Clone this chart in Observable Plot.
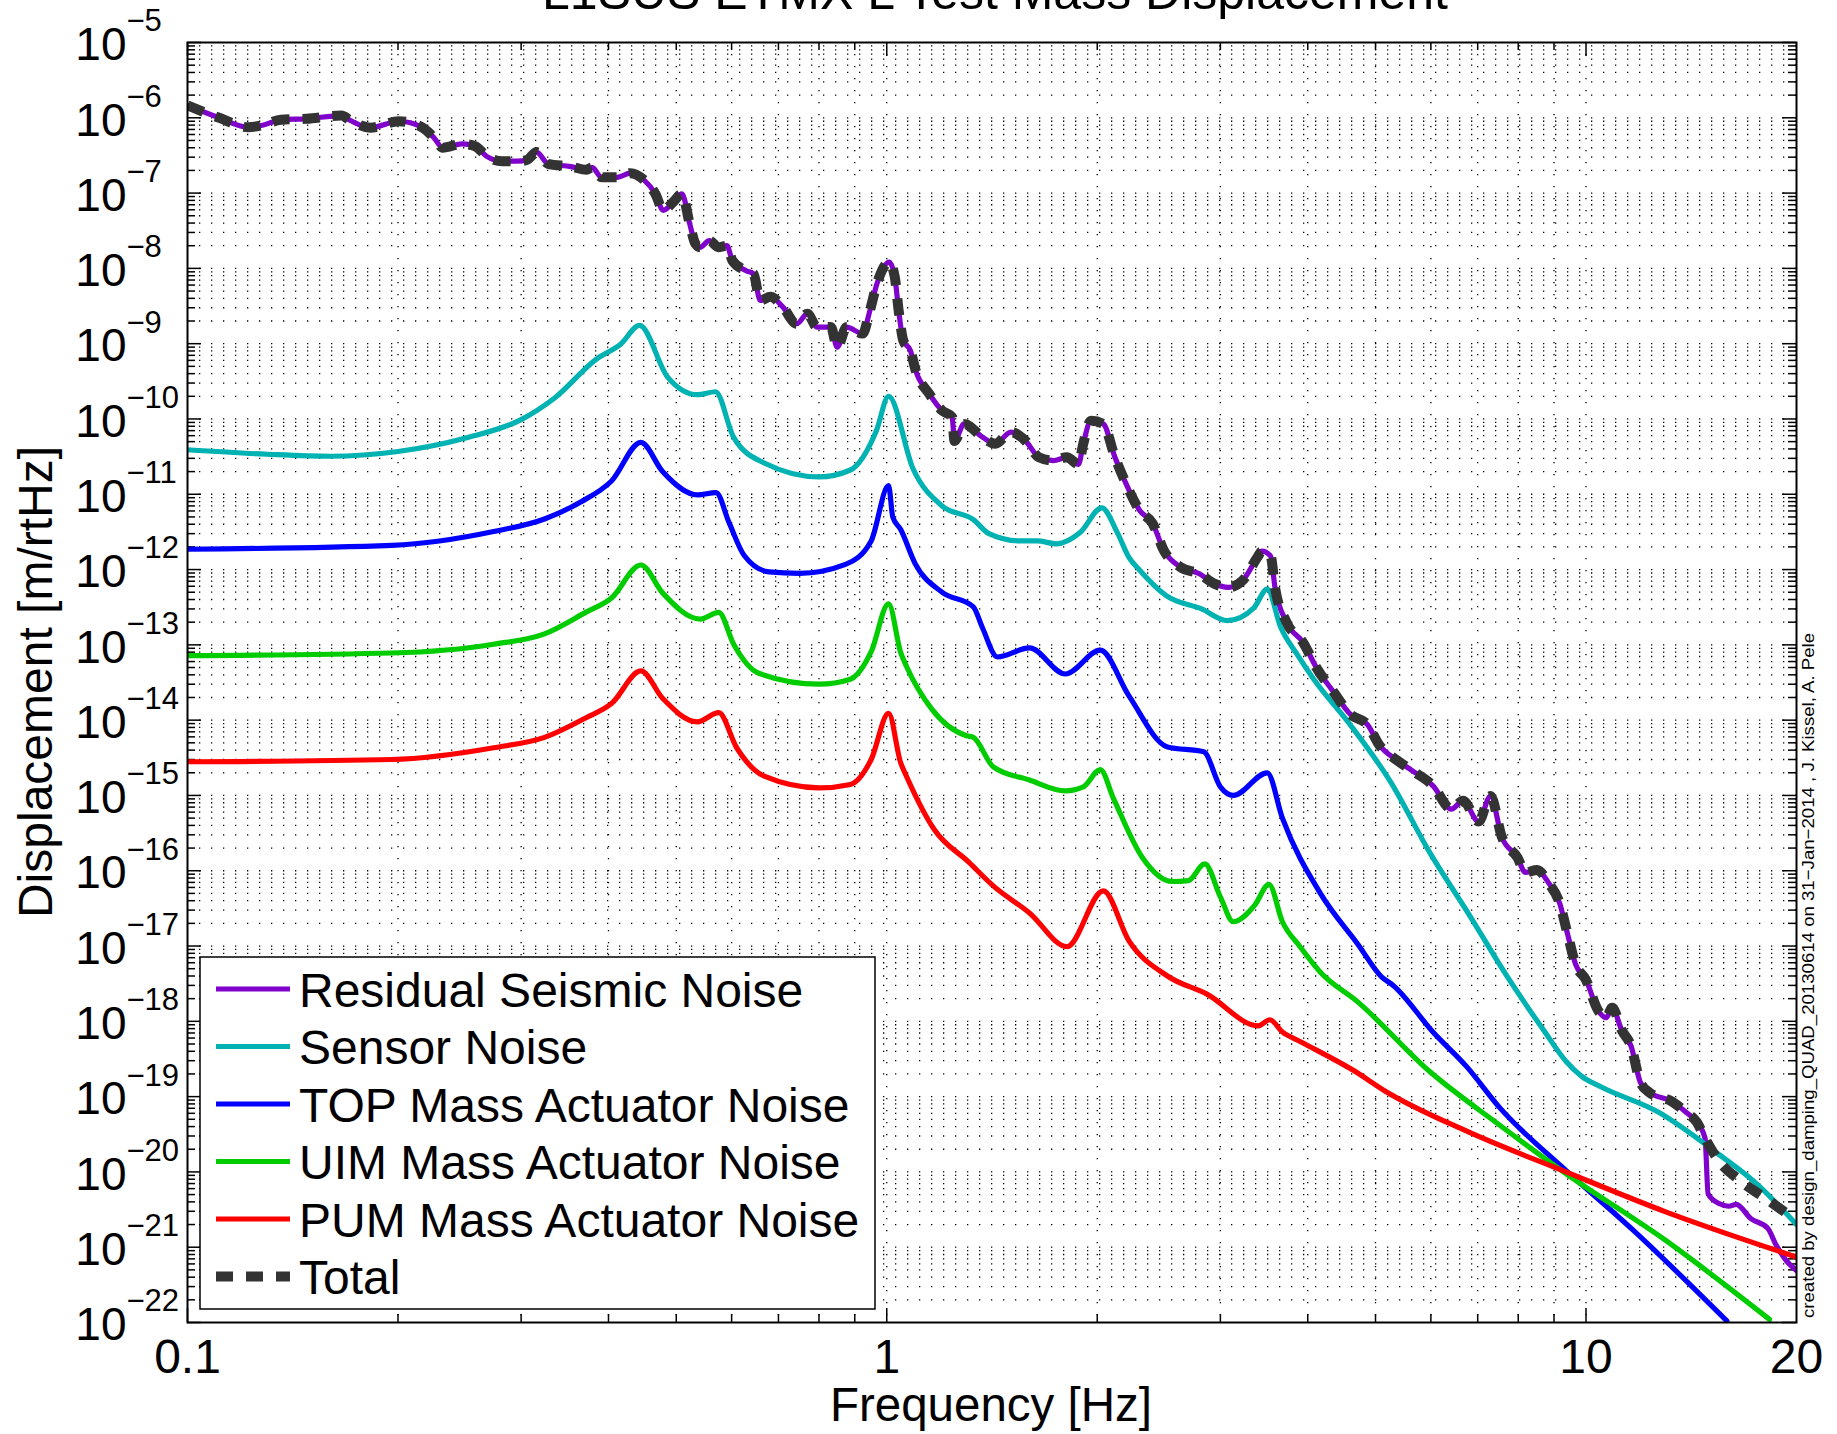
<!DOCTYPE html>
<html><head><meta charset="utf-8">
<script src="https://cdn.jsdelivr.net/npm/d3@7"></script>
<script src="https://cdn.jsdelivr.net/npm/@observablehq/plot@0.6"></script>
<style>
html,body{margin:0;padding:0;background:#fff;}
#chart{position:relative;width:1837px;height:1434px;overflow:hidden;background:#fff;}
</style></head><body><div id="chart"></div>
<script>
// ---------------- DATA (frequency [Hz], displacement [m/rtHz]) ----------------
const titleText = "L1SUS ETMX L Test Mass Displacement";
const xLabel = "Frequency [Hz]";
const yLabel = "Displacement [m/rtHz]";
const captionText = "created by design_damping_QUAD_20130614 on 31\u2212Jan\u22122014 , J. Kissel, A. Pele";

const seriesNames = ["Residual Seismic Noise","Sensor Noise","TOP Mass Actuator Noise","UIM Mass Actuator Noise","PUM Mass Actuator Noise","Total"];
const seriesColors = ["#8000cc","#00b2b2","#0000ff","#00cc00","#ff0000","#333333"];

const seismicNoise = [[0.1,1.46e-6],[0.111,1.0e-6],[0.122,7.5e-7],[0.1275,7.9e-7],[0.136,9.4e-7],[0.148,9.7e-7],[0.166,1.07e-6],[0.171,9.2e-7],[0.1825,7.4e-7],[0.2006,9.0e-7],[0.2164,7.5e-7],[0.2249,5.5e-7],[0.2318,4.0e-7],[0.2469,4.5e-7],[0.2578,4.2e-7],[0.2682,3.05e-7],[0.2819,2.65e-7],[0.2963,2.65e-7],[0.3058,2.75e-7],[0.3157,3.5e-7],[0.3278,2.45e-7],[0.3535,2.25e-7],[0.372,2.04e-7],[0.379,2.2e-7],[0.391,1.62e-7],[0.4115,1.62e-7],[0.4298,1.84e-7],[0.4494,1.5e-7],[0.4667,9.8e-8],[0.479,5.9e-8],[0.495,7.6e-8],[0.5094,9.8e-8],[0.5227,3.9e-8],[0.5326,2.12e-8],[0.5408,1.91e-8],[0.5575,2.34e-8],[0.5746,1.91e-8],[0.5907,2.0e-8],[0.6015,1.27e-8],[0.6296,9.3e-9],[0.6448,8.5e-9],[0.6593,3.75e-9],[0.682,4.2e-9],[0.7095,3.1e-9],[0.7436,1.84e-9],[0.77,2.5e-9],[0.7945,1.66e-9],[0.8318,1.66e-9],[0.8494,9.0e-10],[0.8765,1.66e-9],[0.9235,1.36e-9],[0.946,2.75e-9],[0.9685,6.3e-9],[1.008,1.21e-8],[1.027,7.6e-9],[1.04,2.75e-9],[1.056,1.1e-9],[1.081,8.1e-10],[1.10,4.4e-10],[1.15,2.16e-10],[1.20,1.29e-10],[1.24,1.06e-10],[1.25,5.1e-11],[1.29,8.6e-11],[1.37,5.75e-11],[1.43,4.7e-11],[1.505,6.7e-11],[1.58,5.1e-11],[1.65,3.1e-11],[1.73,2.8e-11],[1.81,3.1e-11],[1.88,2.5e-11],[1.91,4.7e-11],[1.96,9.5e-11],[2.04,8.6e-11],[2.12,3.1e-11],[2.19,1.5e-11],[2.30,6.1e-12],[2.40,4.1e-12],[2.49,1.8e-12],[2.63,1.08e-12],[2.80,8.8e-13],[2.94,6.5e-13],[3.08,5.8e-13],[3.23,7.2e-13],[3.39,1.46e-12],[3.44,1.76e-12],[3.54,1.51e-12],[3.59,5.9e-13],[3.73,2.0e-13],[3.94,1.07e-13],[4.12,4.9e-14],[4.35,2.4e-14],[4.6,1.2e-14],[4.87,8.7e-15],[5.06,4.7e-15],[5.36,2.95e-15],[5.64,2.14e-15],[6.04,1.35e-15],[6.42,6.6e-16],[6.67,8.5e-16],[7.02,4.5e-16],[7.3,9.8e-16],[7.58,2.8e-16],[7.98,1.5e-16],[8.19,9.5e-17],[8.51,1.02e-16],[8.84,6.9e-17],[9.17,3.7e-17],[9.41,1.45e-17],[9.66,5.75e-18],[10.0,3.55e-18],[10.4,1.41e-18],[10.69,1.12e-18],[10.9,1.51e-18],[11.25,7.6e-19],[11.6,4.7e-19],[11.95,1.58e-19],[12.3,1.15e-19],[13.3,8.5e-20],[13.9,6.2e-20],[14.4,4.6e-20],[14.8,2.8e-20],[14.95,5.1e-21],[15.5,3.8e-21],[16.0,3.5e-21],[16.4,3.7e-21],[17.2,2.4e-21],[18.2,1.78e-21],[18.7,1.07e-21],[19.3,6.8e-22],[20,4.9e-22]];

const sensorNoise = [[0.1,3.9e-11],[0.13,3.4e-11],[0.16,3.2e-11],[0.2,3.7e-11],[0.25,5.6e-11],[0.3,9.8e-11],[0.335,1.9e-10],[0.384,6.2e-10],[0.417,1.0e-9],[0.443,1.75e-9],[0.486,3.6e-10],[0.536,2.1e-10],[0.569,2.3e-10],[0.604,5.7e-11],[0.668,2.6e-11],[0.80,1.7e-11],[0.887,2.1e-11],[0.967,7.1e-11],[1.006,2.0e-10],[1.09,2.2e-11],[1.2,7.0e-12],[1.33,4.6e-12],[1.40,3.0e-12],[1.55,2.4e-12],[1.64,2.4e-12],[1.75,2.2e-12],[1.89,3.1e-12],[2.03,6.6e-12],[2.14,3.0e-12],[2.22,1.45e-12],[2.30,9.8e-13],[2.51,4.5e-13],[2.82,3.0e-13],[3.07,2.1e-13],[3.35,3.1e-13],[3.5,5.5e-13],[3.66,1.7e-13],[3.85,7.8e-14],[4.08,3.5e-14],[4.6,8.7e-15],[5.27,1.45e-15],[5.97,1.78e-16],[6.79,2.7e-17],[7.68,4.2e-18],[8.7,7.6e-19],[9.36,2.95e-19],[9.86,1.86e-19],[10.5,1.35e-19],[12.7,6.2e-20],[15.4,1.78e-20],[17.5,7.1e-21],[20,2.0e-21]];

const topActuatorNoise = [[0.1,1.86e-12],[0.196,2.1e-12],[0.274,3.2e-12],[0.324,4.7e-12],[0.365,7.9e-12],[0.404,1.5e-11],[0.445,4.9e-11],[0.478,2.0e-11],[0.536,9.8e-12],[0.57,1.05e-11],[0.595,4.2e-12],[0.625,1.55e-12],[0.679,9.3e-13],[0.75,8.9e-13],[0.873,1.17e-12],[0.95,2.4e-12],[1.006,1.3e-11],[1.02,5.0e-12],[1.047,3.4e-12],[1.098,1.2e-12],[1.2,5.0e-13],[1.33,3.2e-13],[1.37,1.7e-13],[1.44,6.9e-14],[1.6,9.1e-14],[1.8,4.1e-14],[2.02,8.5e-14],[2.22,2.1e-14],[2.52,4.4e-15],[2.84,3.8e-15],[3.0,1.3e-15],[3.13,1.0e-15],[3.5,2.0e-15],[3.68,5.0e-16],[4.17,5.0e-17],[4.72,1.05e-17],[5.1,3.9e-18],[5.3,3.0e-18],[6.05,7.1e-19],[6.75,2.5e-19],[7.52,7.2e-20],[9.36,1.05e-20],[11.7,1.66e-21],[15.9,1.05e-22]];

const uimActuatorNoise = [[0.1,7.2e-14],[0.196,7.8e-14],[0.274,1.02e-13],[0.324,1.4e-13],[0.371,2.7e-13],[0.404,4.2e-13],[0.445,1.15e-12],[0.478,4.9e-13],[0.541,2.2e-13],[0.575,2.7e-13],[0.604,1.02e-13],[0.656,4.2e-14],[0.80,3.0e-14],[0.887,3.5e-14],[0.95,8.1e-14],[1.006,3.5e-13],[1.047,7.9e-14],[1.067,5.2e-14],[1.16,1.4e-14],[1.30,6.2e-15],[1.33,5.9e-15],[1.42,2.4e-15],[1.6,1.6e-15],[1.8,1.15e-15],[1.91,1.3e-15],[2.02,2.2e-15],[2.11,9.1e-16],[2.32,1.5e-16],[2.56,7.2e-17],[2.7,7.4e-17],[2.85,1.23e-16],[3.0,4.5e-17],[3.13,2.1e-17],[3.36,3.5e-17],[3.52,6.6e-17],[3.68,2.1e-17],[3.9,9.8e-18],[4.17,4.5e-18],[4.72,1.8e-18],[5.96,2.2e-19],[7.52,4.2e-20],[9.36,9.5e-21],[13.0,1.23e-21],[18.3,1.1e-22]];

const pumActuatorNoise = [[0.1,2.8e-15],[0.196,3.0e-15],[0.274,4.3e-15],[0.324,5.9e-15],[0.371,1.07e-14],[0.404,1.66e-14],[0.445,4.5e-14],[0.478,1.95e-14],[0.536,9.5e-15],[0.575,1.26e-14],[0.61,4.3e-15],[0.668,1.8e-15],[0.80,1.26e-15],[0.887,1.4e-15],[0.95,3.0e-15],[1.006,1.23e-14],[1.047,2.7e-15],[1.067,1.8e-15],[1.17,3.5e-16],[1.31,1.3e-16],[1.42,6.3e-17],[1.6,2.75e-17],[1.81,9.8e-18],[2.04,5.4e-17],[2.22,1.17e-17],[2.52,4.0e-18],[2.87,2.3e-18],[3.4,8.7e-19],[3.53,1.05e-18],[3.68,7.2e-19],[3.9,5.4e-19],[4.66,2.2e-19],[5.15,1.2e-19],[6.74,3.5e-20],[9.36,1.0e-20],[13.0,2.95e-21],[20,7.4e-22]];

// Total follows the residual seismic trace up to 14.8 Hz, then these read points
const totalTail = [[15.4,1.51e-20],[16.7,7.4e-21],[18.3,4.1e-21],[19.9,2.34e-21]];
const totalNoise = seismicNoise.filter(([f]) => f <= 14.8).concat(totalTail);

const xTickValues = [0.1, 1, 10, 20];
const xTickLabels = ["0.1", "1", "10", "20"];
const yTickExponents = [-5,-6,-7,-8,-9,-10,-11,-12,-13,-14,-15,-16,-17,-18,-19,-20,-21,-22];

// ---------------- LAYOUT ----------------
const W = 1837, H = 1434;
const ML = 187, MR = W - 1796, MT = 42, MB = H - 1322;
const FW = W - ML - MR, FH = H - MT - MB;
const FONT = "'Liberation Sans', Arial, Helvetica, sans-serif";

const seriesData = [seismicNoise, sensorNoise, topActuatorNoise, uimActuatorNoise, pumActuatorNoise, totalNoise];
const rows = seriesData.map((arr, i) => arr.map(([f, v]) => ({series: seriesNames[i], f, v})));

// grid positions (1..9 x decade)
const xGrid = [];
for (const d of [0.1, 1, 10]) for (let k = 1; k <= 9; k++) { const v = +(k * d).toPrecision(3); if (v > 0.1 && v < 20) xGrid.push(v); }
const xMajor = [0.1, 1, 10];
const xMinor = xGrid.filter(v => !xMajor.includes(v));
const yGrid = [], yMinor = [];
for (let e = -22; e < -5; e++) for (let k = 1; k <= 9; k++) { const v = k * Math.pow(10, e); if (e > -22 || k > 1) yGrid.push(v); if (k > 1) yMinor.push(v); }
const yMajor = yTickExponents.map(e => Math.pow(10, e));

const gridStyle = {stroke: "#000", strokeWidth: 1.3, strokeDasharray: "1.3,10.7"};
const tickStyle = {stroke: "#000", strokeWidth: 1.5};

const lineMark = (i, opts) => Plot.line(rows[i], {x: "f", y: "v", stroke: seriesColors[i], strokeWidth: 5.2, curve: "monotone-x", clip: true, ...opts});

const plot = Plot.plot({
  width: W, height: H,
  marginLeft: ML, marginRight: MR, marginTop: MT, marginBottom: MB,
  style: {fontFamily: FONT, background: "#fff", overflow: "visible"},
  x: {type: "log", domain: [0.1, 20], axis: null},
  y: {type: "log", domain: [1e-22, 1e-5], axis: null},
  marks: [
    Plot.ruleX(xGrid, {x: d => d, ...gridStyle}),
    Plot.ruleY(yGrid, {y: d => d, ...gridStyle}),
    // inward tick marks
    Plot.tickX(xMajor, {x: d => d, insetTop: FH - 14, ...tickStyle}),
    Plot.tickX(xMajor, {x: d => d, insetBottom: FH - 14, ...tickStyle}),
    Plot.tickX(xMinor, {x: d => d, insetTop: FH - 8, ...tickStyle}),
    Plot.tickX(xMinor, {x: d => d, insetBottom: FH - 8, ...tickStyle}),
    Plot.tickY(yMajor, {y: d => d, insetRight: FW - 14, ...tickStyle}),
    Plot.tickY(yMajor, {y: d => d, insetLeft: FW - 14, ...tickStyle}),
    Plot.tickY(yMinor, {y: d => d, insetRight: FW - 8, ...tickStyle}),
    Plot.tickY(yMinor, {y: d => d, insetLeft: FW - 8, ...tickStyle}),
    // curves
    lineMark(0, {}),
    lineMark(1, {}),
    lineMark(2, {}),
    lineMark(3, {}),
    lineMark(4, {}),
    lineMark(5, {strokeWidth: 10, strokeDasharray: "17,13", strokeLinecap: "butt"}),
    Plot.frame({stroke: "#000", strokeWidth: 2}),
    // tick labels
    Plot.text(yTickExponents, {y: e => Math.pow(10, e), text: () => "10", frameAnchor: "left", textAnchor: "end", lineAnchor: "middle", dx: -61, dy: 3, fontSize: 46, fill: "#000"}),
    Plot.text(yTickExponents, {y: e => Math.pow(10, e), text: e => "\u2212" + (-e), frameAnchor: "left", textAnchor: "start", lineAnchor: "middle", dx: -61, dy: -21, fontSize: 31, fill: "#000"}),
    Plot.text(xTickValues, {x: d => d, text: (d, i) => xTickLabels[i], frameAnchor: "bottom", lineAnchor: "middle", dy: 35, fontSize: 48, fill: "#000"})
  ]
});
document.getElementById("chart").appendChild(plot);

// ---------------- OVERLAYS (title, axis titles, caption, legend) ----------------
const svg = d3.select(plot);
svg.append("text").attr("x", 995).attr("y", 8.5).attr("text-anchor", "middle")
  .attr("font-size", 50).attr("font-family", FONT).attr("fill", "#000").text(titleText);
svg.append("text").attr("x", 991).attr("y", 1421).attr("text-anchor", "middle")
  .attr("font-size", 47.5).attr("font-family", FONT).attr("fill", "#000").text(xLabel);
svg.append("text").attr("transform", "translate(35,682) rotate(-90)").attr("text-anchor", "middle")
  .attr("dominant-baseline", "central").attr("font-size", 48).attr("font-family", FONT).attr("fill", "#000").text(yLabel);
svg.append("text").attr("transform", "translate(1814,1318) rotate(-90)").attr("text-anchor", "start")
  .attr("font-size", 17).attr("font-family", FONT).attr("fill", "#000")
  .attr("textLength", 685).attr("lengthAdjust", "spacingAndGlyphs").text(captionText);

const lg = svg.append("g").attr("text-anchor", "start");
lg.append("rect").attr("x", 200).attr("y", 957).attr("width", 675).attr("height", 352)
  .attr("fill", "#fff").attr("stroke", "#000").attr("stroke-width", 1.5);
seriesNames.forEach((name, i) => {
  const yy = 989 + i * 57.5;
  const ln = lg.append("line").attr("x1", 216).attr("x2", 290).attr("y1", yy).attr("y2", yy)
    .attr("stroke", seriesColors[i]).attr("stroke-width", i === 5 ? 10 : 5.2);
  if (i === 5) ln.attr("stroke-dasharray", "17,13");
  lg.append("text").attr("x", 299).attr("y", yy + 1).attr("text-anchor", "start").attr("dominant-baseline", "central")
    .attr("font-size", 48).attr("font-family", FONT).attr("fill", "#000").text(name);
});
</script></body></html>
